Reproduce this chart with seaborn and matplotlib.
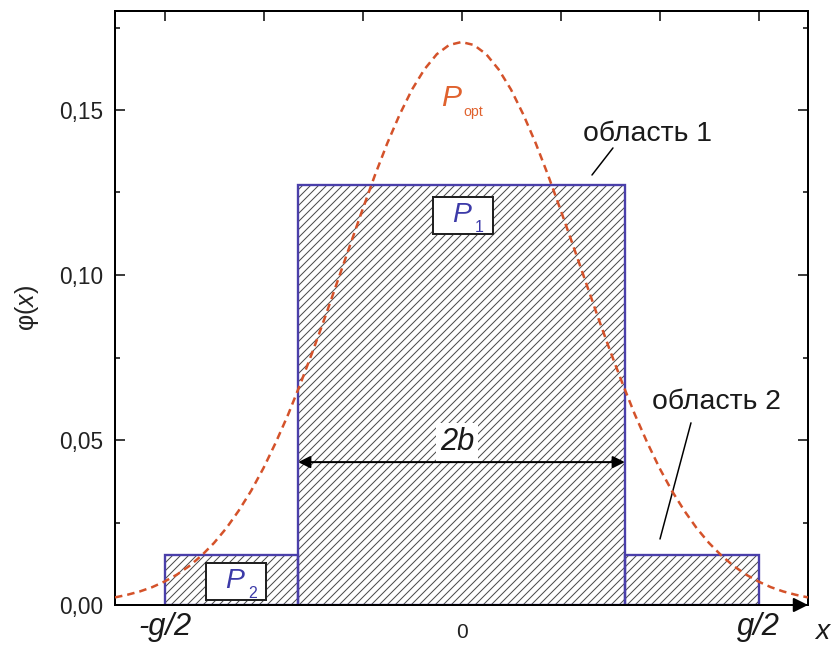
import numpy as np
import pandas as pd
import matplotlib
matplotlib.use("Agg")
import matplotlib.pyplot as plt
from matplotlib.patches import Rectangle
from matplotlib.ticker import FixedLocator, FuncFormatter, MultipleLocator
import seaborn as sns

# Optimal density P_opt (sampled curve values)
curve_x = [-3.5, -3.375, -3.25, -3.125, -3.0, -2.875, -2.75, -2.625, -2.5, -2.375, -2.25, -2.125,
           -2.0, -1.875, -1.75, -1.625, -1.5, -1.375, -1.25, -1.125, -1.0, -0.875, -0.75, -0.625,
           -0.5, -0.375, -0.25, -0.125, 0.0, 0.125, 0.25, 0.375, 0.5, 0.625, 0.75, 0.875,
           1.0, 1.125, 1.25, 1.375, 1.5, 1.625, 1.75, 1.875, 2.0, 2.125, 2.25, 2.375,
           2.5, 2.625, 2.75, 2.875, 3.0, 3.125, 3.25, 3.375, 3.5]
curve_y = [0.0023, 0.0031, 0.0041, 0.0054, 0.0071, 0.0092, 0.0118, 0.0150, 0.0188, 0.0233, 0.0286, 0.0346,
           0.0415, 0.0493, 0.0578, 0.0672, 0.0771, 0.0875, 0.0983, 0.1091, 0.1198, 0.1302, 0.1399, 0.1486,
           0.1562, 0.1623, 0.1669, 0.1697, 0.1706, 0.1697, 0.1669, 0.1623, 0.1562, 0.1486, 0.1399, 0.1302,
           0.1198, 0.1091, 0.0983, 0.0875, 0.0771, 0.0672, 0.0578, 0.0493, 0.0415, 0.0346, 0.0286, 0.0233,
           0.0188, 0.0150, 0.0118, 0.0092, 0.0071, 0.0054, 0.0041, 0.0031, 0.0023]

# Piecewise-constant density: region 2 | region 1 | region 2
half_g = 3.0
b = 1.65
step_left = [-half_g, -b, b]
step_right = [-b, b, half_g]
step_height = [0.0152, 0.1273, 0.0152]

y_ticks = [0.00, 0.05, 0.10, 0.15]
x_ticks = [-3, -2, -1, 0, 1, 2, 3]
x_tick_labels = ["", "", "", "0", "", "", ""]

sns.set_theme(style="ticks")
plt.rcParams["font.family"] = ["Liberation Sans", "DejaVu Sans"]
plt.rcParams["mathtext.fontset"] = "custom"
plt.rcParams["mathtext.rm"] = "Liberation Sans"
plt.rcParams["mathtext.it"] = "Liberation Sans:italic"
plt.rcParams["hatch.linewidth"] = 0.6

BLUE = "#4a3faa"
BLUE_TXT = "#3c3aa8"
RED = "#d4522a"
RED_TXT = "#e0622e"
HATCH = "#4a4a4a"
TXT = "#1a1a1a"

W, H, DPI = 834, 648, 120
fig = plt.figure(figsize=(W / DPI, H / DPI), dpi=DPI)
fig.patch.set_facecolor("white")
ax = fig.add_axes([115 / W, 1 - 605 / H, 693 / W, 594 / H])
ax.set_facecolor("white")

widths = [r - l for l, r in zip(step_left, step_right)]
ax.bar(step_left, step_height, width=widths, align="edge", facecolor="white",
       edgecolor=HATCH, hatch="/////", linewidth=0, zorder=1)
ax.bar(step_left, step_height, width=widths, align="edge", fill=False,
       edgecolor=BLUE, linewidth=1.4, zorder=1.6)

df = pd.DataFrame({"x": curve_x, "phi": curve_y})
sns.lineplot(data=df, x="x", y="phi", ax=ax, color=RED, linewidth=1.5,
             dashes=False, zorder=3)
ax.lines[-1].set_dashes((3.0, 2.0))

ax.set_xlim(-3.5, 3.5)
ax.set_ylim(0, 0.18)

ax.yaxis.set_major_locator(FixedLocator(y_ticks))
ax.yaxis.set_minor_locator(MultipleLocator(0.025))
ax.yaxis.set_major_formatter(FuncFormatter(lambda v, p: f"{v:.2f}".replace(".", ",")))
ax.set_xticks(x_ticks)
ax.set_xticklabels(x_tick_labels)

for s in ax.spines.values():
    s.set_visible(True)
    s.set_color("black")
    s.set_linewidth(1.2)

ax.tick_params(which="both", direction="in", top=True, right=True, color="black", width=0.9)
ax.tick_params(which="major", length=6)
ax.tick_params(which="minor", length=3)
ax.tick_params(axis="y", labelsize=13.5, pad=7, labelcolor="#222222")
ax.tick_params(axis="x", labelsize=12.5, pad=11, labelcolor="#222222")

ax.set_xlabel("")
ax.set_ylabel(r"φ($\mathit{x}$)", fontsize=15, labelpad=11, color="#222222")

# x-axis arrow
ax.annotate("", xy=(1.0, 0), xytext=(0.975, 0), xycoords="axes fraction",
            arrowprops=dict(arrowstyle="-|>", mutation_scale=18, color="black",
                            lw=1.2, shrinkA=0, shrinkB=0), annotation_clip=False)

# axis end labels
ax.text(-half_g, -0.0068, "-g/2", fontsize=18.5, style="italic", ha="center", va="center", color=TXT)
ax.text(half_g, -0.0068, "g/2", fontsize=18.5, style="italic", ha="center", va="center", color=TXT)
ax.text(3.64, -0.0082, "x", fontsize=17, style="italic", ha="center", va="center", color=TXT)

# P_opt
ax.text(-0.106, 0.1536, "P", fontsize=18, style="italic", color=RED_TXT, ha="center", va="center", zorder=4)
ax.text(0.12, 0.1495, "opt", fontsize=8.5, color=RED_TXT, ha="center", va="center", zorder=4)

# region labels with leader lines
ax.text(1.874, 0.1427, "область 1", fontsize=17, color=TXT, ha="center", va="center")
ax.plot([1.53, 1.318], [0.1385, 0.1303], color="black", lw=0.9)
ax.text(2.58, 0.0615, "область 2", fontsize=17, color=TXT, ha="center", va="center")
ax.plot([2.318, 2.005], [0.0552, 0.020], color="black", lw=0.9)

# 2b dimension arrow
ax.annotate("", xy=(-b, 0.0433), xytext=(b, 0.0433),
            arrowprops=dict(arrowstyle="<|-|>", mutation_scale=15, color="black",
                            lw=1.2, shrinkA=0, shrinkB=0), zorder=4)
ax.text(-0.045, 0.0494, "2b", fontsize=18.5, style="italic", color=TXT, ha="center", va="center",
        bbox=dict(facecolor="white", edgecolor="none", pad=2.5), zorder=4)

# P1 and P2 boxes
bw, bh = 60 / 99.0, 37 / 3300.0
for cx, cy, sub in [(0.015, 0.1179, "1"), (-2.278, 0.0071, "2")]:
    ax.add_patch(Rectangle((cx - bw / 2, cy - bh / 2), bw, bh, facecolor="white",
                           edgecolor="#222222", linewidth=1.2, zorder=4))
    ax.text(cx - 0.01, cy + 0.0002, "P", fontsize=17, style="italic", color=BLUE_TXT,
            ha="center", va="center", zorder=5)
    ax.text(cx + 0.165, cy - 0.0036, sub, fontsize=9.5, color=BLUE_TXT,
            ha="center", va="center", zorder=5)

fig.savefig("out.png", dpi=DPI, facecolor="white")
